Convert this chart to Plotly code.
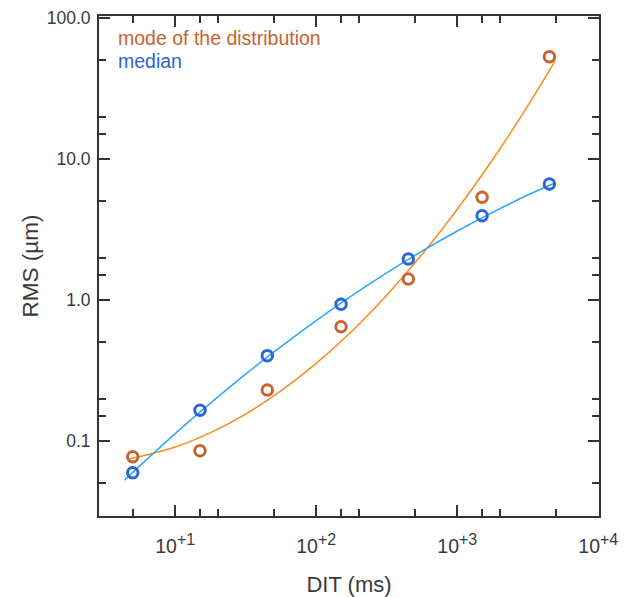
import plotly.graph_objects as go

# Data
dit = [5, 15, 45, 150, 450, 1500, 4500]
rms_mode = [0.0774, 0.0853, 0.230, 0.647, 1.41, 5.35, 53.0]
rms_median = [0.0596, 0.165, 0.403, 0.932, 1.95, 3.96, 6.65]

# fitted curves
fit_mode_x = [4.72, 10, 17.8, 31.6, 56.2, 100, 178, 316, 562, 1000, 1778, 3162, 4955]
fit_mode_y = [0.0745, 0.0906, 0.1146, 0.1553, 0.2265, 0.355, 0.598, 1.082, 2.10, 4.40, 9.88, 23.8, 49.8]
fit_med_x = [4.37, 10, 17.8, 31.6, 56.2, 100, 178, 316, 562, 1000, 1778, 3162, 4955]
fit_med_y = [0.0528, 0.1128, 0.1855, 0.2979, 0.467, 0.7145, 1.068, 1.557, 2.219, 3.083, 4.183, 5.551, 6.79]

x_major = [10, 100, 1000, 10000]
x_exponents = ["+1", "+2", "+3", "+4"]
x_major_text = ["10<sup><span style='font-size:16px'>%s</span></sup>" % e for e in x_exponents]
y_major = [0.1, 1, 10, 100]
y_major_text = ["0.1", "1.0", "10.0", "100.0"]
minor_mult = [1.5, 2, 5]
x_minor = [m * 10 ** k for k in range(0, 4) for m in minor_mult]
y_minor = [m * 10 ** k for k in range(-2, 2) for m in minor_mult]

ORANGE_M = "#c8642e"
BLUE_M = "#2c66d2"
ORANGE_L = "#ff8a1c"
BLUE_L = "#2aa6ff"
FONT = "Liberation Sans"
TXT = "#3a3a3a"

fig = go.Figure()
fig.add_trace(go.Scatter(x=fit_mode_x, y=fit_mode_y, mode="lines",
                         line=dict(color=ORANGE_L, width=1.5, shape="spline")))
fig.add_trace(go.Scatter(x=fit_med_x, y=fit_med_y, mode="lines",
                         line=dict(color=BLUE_L, width=1.5, shape="spline")))
fig.add_trace(go.Scatter(x=dit, y=rms_mode, mode="markers",
                         marker=dict(symbol="circle-open", size=10.5, color=ORANGE_M,
                                     line=dict(width=3, color=ORANGE_M))))
fig.add_trace(go.Scatter(x=dit, y=rms_median, mode="markers",
                         marker=dict(symbol="circle-open", size=10.5, color=BLUE_M,
                                     line=dict(width=3, color=BLUE_M))))

axis_common = dict(
    type="log", showgrid=False, zeroline=False, showline=True, automargin=False,
    linecolor="#333333", linewidth=2, mirror="ticks", ticks="inside",
    ticklen=11, tickwidth=1.5, tickcolor="#333333",
)
fig.update_xaxes(**axis_common, range=[0.46, 4.005],
                 tickvals=x_major, ticktext=x_major_text, ticklabelstandoff=12,
                 tickfont=dict(family=FONT, size=19.5, color=TXT),
                 minor=dict(tickvals=x_minor, ticks="inside", ticklen=7,
                            tickwidth=1.5, tickcolor="#333333"),
                 title=dict(text="DIT (ms)", font=dict(family=FONT, size=22, color=TXT),
                            standoff=20))
fig.update_yaxes(**axis_common, range=[-1.532, 2.014],
                 tickvals=y_major, ticktext=y_major_text, ticklabelstandoff=3,
                 tickfont=dict(family=FONT, size=17.5, color=TXT),
                 minor=dict(tickvals=y_minor, ticks="inside", ticklen=7,
                            tickwidth=1.5, tickcolor="#333333"),
                 title=dict(text="RMS (µm)", font=dict(family=FONT, size=22.5, color=TXT),
                            standoff=2))

fig.add_annotation(x=0.034, y=0.956, xref="paper", yref="paper", xanchor="left",
                   yanchor="middle", showarrow=False, text="mode of the distribution",
                   font=dict(family=FONT, size=19.5, color=ORANGE_M))
fig.add_annotation(x=0.034, y=0.909, xref="paper", yref="paper", xanchor="left",
                   yanchor="middle", showarrow=False, text="median",
                   font=dict(family=FONT, size=19.5, color=BLUE_M))

fig.update_layout(
    width=628, height=597, showlegend=False,
    margin=dict(l=99, r=29, t=16, b=81),
    plot_bgcolor="white", paper_bgcolor="white",
)
fig.write_html("out.html")
